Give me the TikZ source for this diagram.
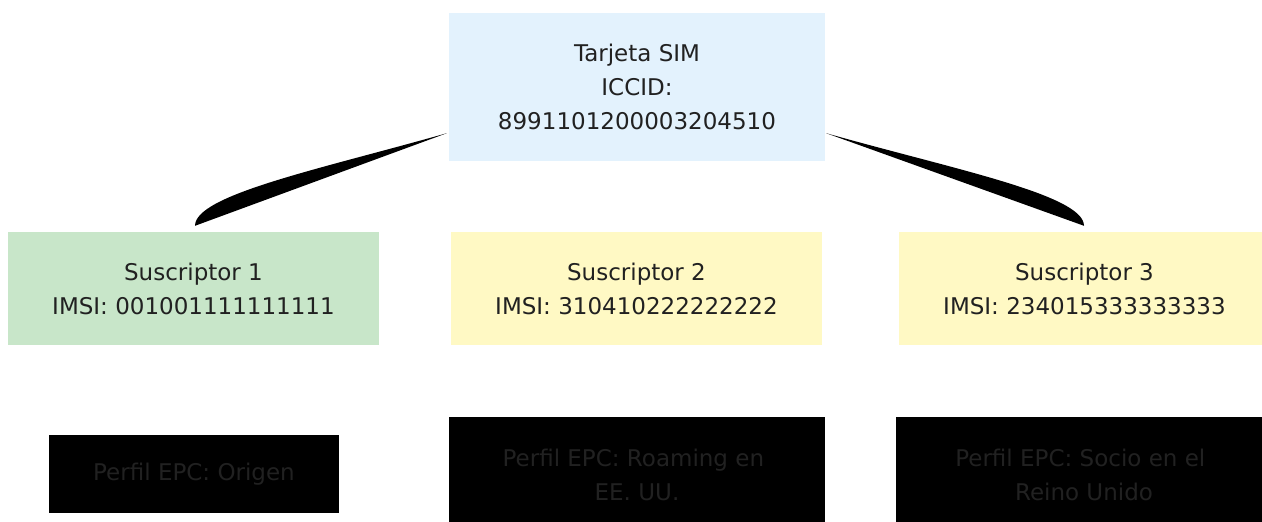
\documentclass[tikz,border=0pt]{standalone}
\usepackage{fontspec}
\setmainfont{DejaVu Sans}
\usetikzlibrary{calc}
\definecolor{simblue}{HTML}{E3F2FD}
\definecolor{subgreen}{HTML}{C8E6C9}
\definecolor{subyellow}{HTML}{FFF9C4}
\definecolor{txt}{HTML}{212121}
\tikzset{
  box/.style={rectangle, inner sep=0pt, align=center, text=txt,
    font=\fontsize{23}{34}\selectfont},
  simbox/.style={box, fill=simblue, minimum width=376pt, minimum height=148pt},
  homebox/.style={box, fill=subgreen, minimum width=371pt, minimum height=113pt},
  visitbox/.style={box, fill=subyellow, minimum width=371pt, minimum height=113pt},
  profbox/.style={box, fill=black},
  link/.style={fill=black}
}
\begin{document}
\begin{tikzpicture}[x=1pt,y=-1pt]
\useasboundingbox (0,0) rectangle (1262,522);
\clip (0,0) rectangle (1262,522);
\node[simbox] (sim) at (637,87) {Tarjeta SIM\\ICCID:\\8991101200003204510};
\node[homebox] (s1) at (193.5,288.5) {Suscriptor 1\\IMSI: 001001111111111};
\node[visitbox] (s2) at (636.5,288.5) {Suscriptor 2\\IMSI: 310410222222222};
\node[visitbox] (s3) at (1084.5,288.5) {Suscriptor 3\\IMSI: 234015333333333};
\node[profbox, minimum width=290pt, minimum height=78pt] (p1) at (194,474) {Perfil EPC: Origen};
\node[profbox, minimum width=376pt, minimum height=115pt] (p2) at (637,474.5) {Perfil EPC: Roaming en\hspace*{0.318em}\\EE. UU.};
\node[profbox, minimum width=376pt, minimum height=115pt] (p3) at (1084,474.5) {Perfil EPC: Socio en el\hspace*{0.318em}\\Reino Unido};
\coordinate (tipL) at ($(sim.south west)+(-2,-28)$);
\coordinate (endL) at ($(s1.north)+(1.5,-6)$);
\coordinate (tipR) at ($(sim.south east)+(1,-28)$);
\coordinate (endR) at ($(s3.north)+(-0.5,-6)$);
\fill[link] (tipL) .. controls +(-127,36) and +(0,-31) .. (endL) -- cycle;
\fill[link] (tipR) .. controls +(127,36) and +(0,-31) .. (endR) -- cycle;
\end{tikzpicture}
\end{document}
